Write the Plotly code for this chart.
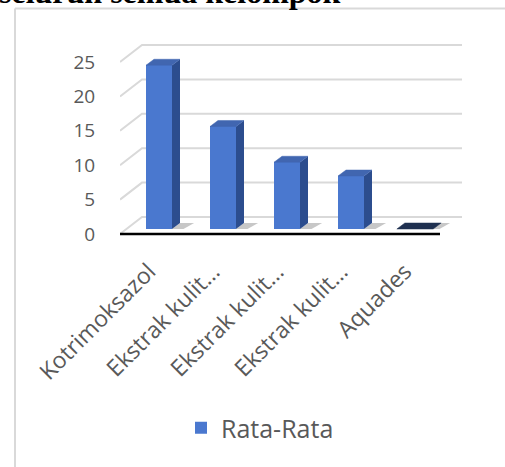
import plotly.graph_objects as go

categories = ["Kotrimoksazol", "Ekstrak kulit…", "Ekstrak kulit…", "Ekstrak kulit…", "Aquades"]
values = [23.8, 14.9, 9.7, 7.7, 0.0]
series_name = "Rata-Rata"
y_ticks = [0, 5, 10, 15, 20, 25]
title_text = "seluruh semua kelompok"

# ---- layout geometry (pixels) ----
W, H = 505, 467
L, R, T, B = 120, 35, 40, 227
PW = W - L - R
PH = H - T - B
X_PX_PER_UNIT = 64.0
Y_PX_PER_UNIT = 6.88
x_range = [-0.5, -0.5 + PW / X_PX_PER_UNIT]
y_lo = (234 - (T + PH)) / Y_PX_PER_UNIT
y_hi = (234 - T) / Y_PX_PER_UNIT
y_range = [y_lo, y_hi]

def px_x(p):
    return (p - L) / PW

def px_y(p):
    return (T + PH - p) / PH

# depth offsets (data units)
DX_WALL = 22 / X_PX_PER_UNIT
DY_WALL = 17 / Y_PX_PER_UNIT
DX_BAR = 7 / X_PX_PER_UNIT
DY_BAR = 5 / Y_PX_PER_UNIT
BAR_W = 26 / X_PX_PER_UNIT
DX_DEPTH = 8 / X_PX_PER_UNIT
DY_DEPTH = 6 / Y_PX_PER_UNIT
LABEL_SHIFT = -3 / X_PX_PER_UNIT

GRID = "#d9d9d9"
TXT = "#595959"
FRONT = "#4a78cf"
SIDE = "#2c4d8e"
TOP = "#4166b0"

fig = go.Figure()

n = len(categories)
xs = list(range(n))

# back wall gridlines + left slanted lines (base axes, drawn underneath)
gx, gy = [], []
for v in y_ticks:
    gx += [-0.5, -0.5 + DX_WALL, n - 0.5 + DX_WALL, None]
    gy += [v, v + DY_WALL, v + DY_WALL, None]
fig.add_trace(go.Scatter(x=gx, y=gy, mode="lines", line=dict(color=GRID, width=2),
                         showlegend=False, hoverinfo="skip"))

# floor front edge
fig.add_trace(go.Scatter(x=[-0.5, n - 0.5], y=[0, 0], mode="lines",
                         line=dict(color="black", width=2.5), showlegend=False, hoverinfo="skip"))

# shadows
for i, v in zip(xs, values):
    x1 = i + DX_BAR + BAR_W / 2
    b = DY_BAR
    fig.add_trace(go.Scatter(
        x=[x1, x1 + DX_DEPTH, x1 + DX_DEPTH + 0.22, x1 + 0.18, x1],
        y=[b, b + DY_DEPTH, b + DY_DEPTH, b, b],
        fill="toself", mode="lines", line=dict(width=0),
        fillcolor="rgba(70,70,70,0.30)", showlegend=False, hoverinfo="skip"))

# front faces (overlay axes so they sit above the grid)
fig.add_trace(go.Bar(x=[i + DX_BAR for i in xs], y=values, base=DY_BAR, width=BAR_W,
                     marker=dict(color=FRONT, line=dict(width=0)), name=series_name,
                     showlegend=True, hoverinfo="skip", xaxis="x2", yaxis="y2"))

# side + top faces
for i, v in zip(xs, values):
    x0 = i + DX_BAR - BAR_W / 2
    x1 = i + DX_BAR + BAR_W / 2
    b = DY_BAR
    t = v + DY_BAR
    if v > 0:
        fig.add_trace(go.Scatter(
            x=[x1, x1, x1 + DX_DEPTH, x1 + DX_DEPTH, x1],
            y=[b, t, t + DY_DEPTH, b + DY_DEPTH, b],
            fill="toself", mode="lines", line=dict(width=0), fillcolor=SIDE,
            showlegend=False, hoverinfo="skip", xaxis="x2", yaxis="y2"))
        fig.add_trace(go.Scatter(
            x=[x0, x1, x1 + DX_DEPTH, x0 + DX_DEPTH, x0],
            y=[t, t, t + DY_DEPTH, t + DY_DEPTH, t],
            fill="toself", mode="lines", line=dict(width=0.5, color=TOP),
            fillcolor=TOP, showlegend=False, hoverinfo="skip", xaxis="x2", yaxis="y2"))
    else:
        fig.add_trace(go.Scatter(
            x=[x0 - 0.08, x1 + 0.08, x1 + DX_DEPTH + 0.08, x0 + DX_DEPTH - 0.08, x0 - 0.08],
            y=[t, t, t + DY_DEPTH, t + DY_DEPTH, t],
            fill="toself", mode="lines", line=dict(width=0.5, color="#1f3050"),
            fillcolor="#1f3050", showlegend=False, hoverinfo="skip", xaxis="x2", yaxis="y2"))

fig.update_layout(
    width=W, height=H,
    margin=dict(l=L, r=R, t=T, b=B, pad=0),
    paper_bgcolor="white", plot_bgcolor="rgba(0,0,0,0)",
    font=dict(family="Open Sans", color=TXT),
    bargap=0,
    showlegend=True,
    legend=dict(orientation="h", x=px_x(181), xanchor="left", y=px_y(405), yanchor="top",
                font=dict(size=25, color=TXT, family="Open Sans"), bgcolor="rgba(0,0,0,0)"),
    xaxis=dict(range=x_range, tickmode="array", tickvals=[i + LABEL_SHIFT for i in xs],
               ticktext=categories,
               tickangle=-45, showgrid=False, zeroline=False, showline=False,
               ticks="outside", ticklen=8, tickcolor="rgba(0,0,0,0)",
               tickfont=dict(size=23, color=TXT, family="Open Sans"), fixedrange=True),
    yaxis=dict(range=y_range, tickmode="array", tickvals=y_ticks,
               showgrid=False, zeroline=False, showline=False,
               ticks="outside", ticklen=20, tickcolor="rgba(0,0,0,0)",
               tickfont=dict(size=19, color=TXT, family="Open Sans"), fixedrange=True),
    xaxis2=dict(range=x_range, overlaying="x", visible=False, fixedrange=True),
    yaxis2=dict(range=y_range, overlaying="y", visible=False, fixedrange=True),
    shapes=[
        dict(type="line", xref="paper", yref="paper", x0=px_x(15), x1=px_x(505),
             y0=px_y(8.5), y1=px_y(8.5), line=dict(color=GRID, width=2)),
        dict(type="line", xref="paper", yref="paper", x0=px_x(15), x1=px_x(15),
             y0=px_y(8.5), y1=px_y(467), line=dict(color=GRID, width=2)),
    ],
    annotations=[
        dict(text="<b>" + title_text + "</b>", xref="paper", yref="paper",
             x=px_x(-3), y=px_y(12), xanchor="left", yanchor="bottom", showarrow=False,
             font=dict(family="Liberation Serif", size=32, color="black")),
    ],
)

fig.write_html("out.html")
